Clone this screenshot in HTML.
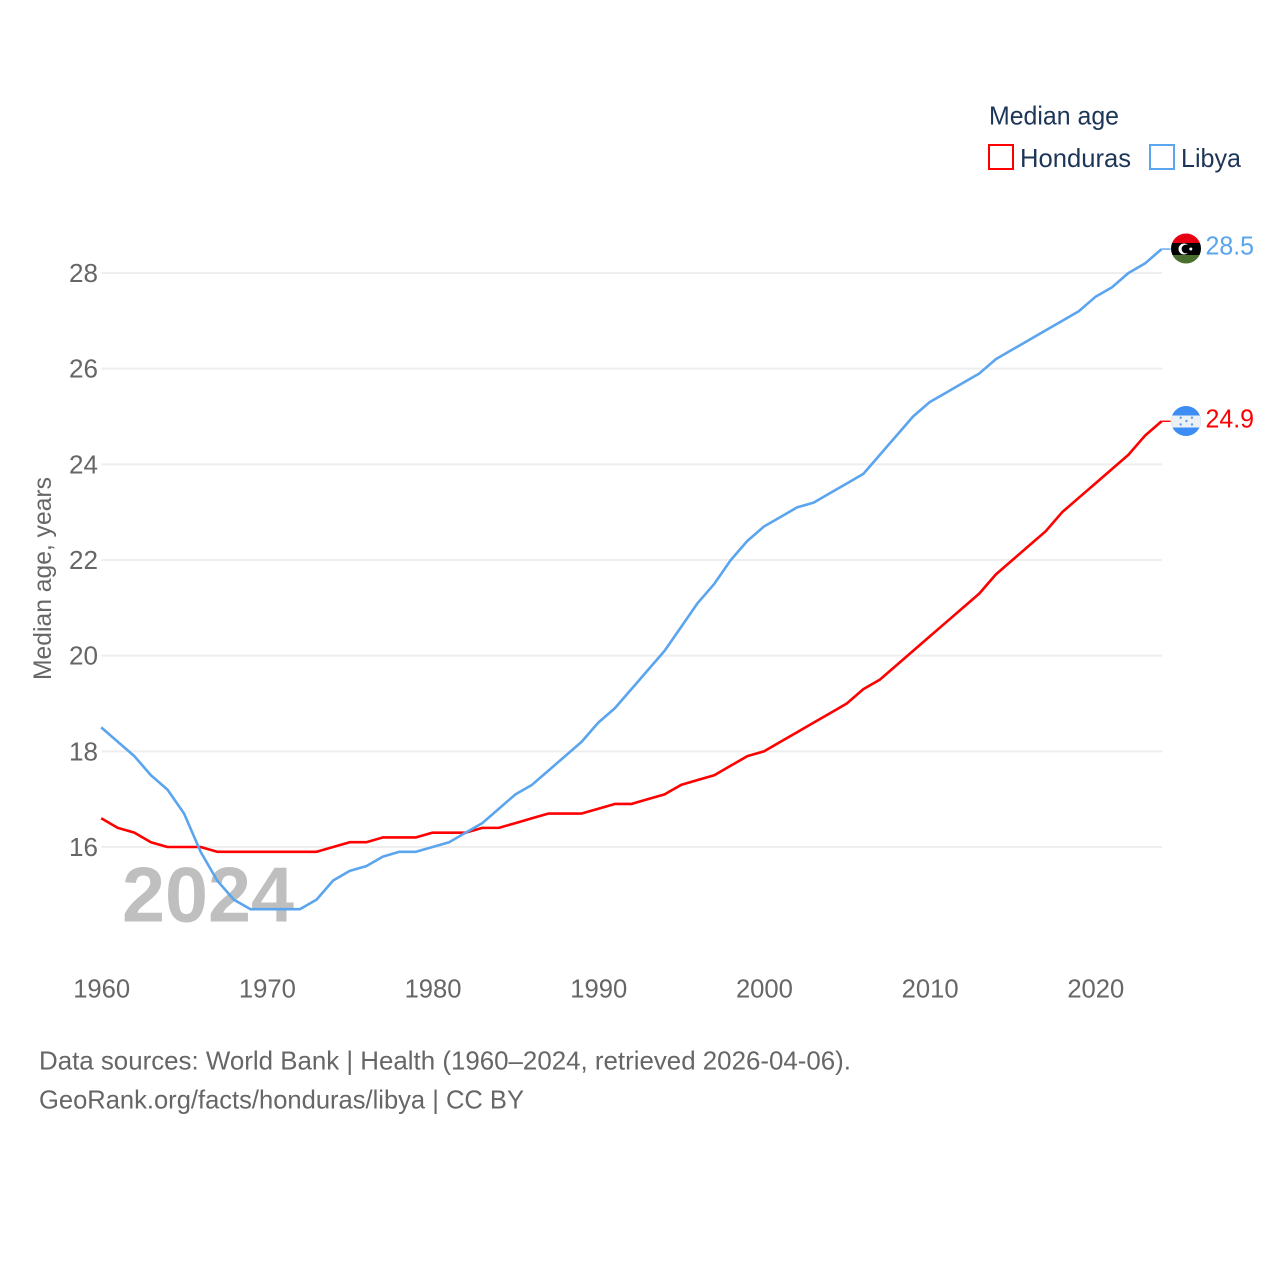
<!DOCTYPE html>
<html>
<head>
<meta charset="utf-8">
<title>Median age: Honduras and Libya</title>
<style>
html,body{margin:0;padding:0;background:#fff;}
svg{display:block;}
text{font-family:"Liberation Sans",sans-serif;}
</style>
</head>
<body>
<svg id="chart" xmlns="http://www.w3.org/2000/svg" width="1280" height="1280" viewBox="0 0 1280 1280">
  <defs>
    <clipPath id="flag-clip-ly"><circle cx="1186" cy="248.5" r="15"></circle></clipPath>
    <clipPath id="flag-clip-hn"><circle cx="1186" cy="421" r="15"></circle></clipPath>
  </defs>
  <rect x="0" y="0" width="1280" height="1280" fill="#ffffff"></rect>
  <g id="grid"></g>
  <text x="122" y="921.5" font-size="78" font-weight="700" fill="#bfbfbf" textLength="172" lengthAdjust="spacingAndGlyphs">2024</text>
  <g id="y-ticks"></g>
  <g id="x-ticks"></g>
  <text transform="translate(51,680) rotate(-90)" font-size="25" fill="#666666" textLength="203" lengthAdjust="spacingAndGlyphs">Median age, years</text>
  <g id="series"></g>

  <g>
    <text x="989" y="124.5" font-size="26" fill="#1d3557" textLength="130" lengthAdjust="spacingAndGlyphs">Median age</text>
    <rect x="989" y="145" width="24" height="24" fill="none" stroke="#ff0000" stroke-width="2"></rect>
    <text x="1020" y="167" font-size="26" fill="#1d3557" textLength="111" lengthAdjust="spacingAndGlyphs">Honduras</text>
    <rect x="1150" y="145" width="24" height="24" fill="none" stroke="#5ba4ee" stroke-width="2"></rect>
    <text x="1181" y="167" font-size="26" fill="#1d3557" textLength="60" lengthAdjust="spacingAndGlyphs">Libya</text>
  </g>

  <g clip-path="url(#flag-clip-ly)">
    <rect x="1171" y="233" width="30" height="10" fill="#e70013"></rect>
    <rect x="1171" y="243" width="30" height="12" fill="#000000"></rect>
    <rect x="1171" y="255" width="30" height="9" fill="#4a7030"></rect>
    <circle cx="1184" cy="249" r="5.5" fill="#ffffff"></circle>
    <circle cx="1186" cy="249" r="4.4" fill="#000000"></circle>
    <circle cx="1190.8" cy="249" r="1.5" fill="#ffffff"></circle>
  </g>
  <g clip-path="url(#flag-clip-hn)">
    <rect x="1171" y="406" width="30" height="30" fill="#3d8df5"></rect>
    <rect x="1171" y="415.5" width="30" height="12" fill="#eef1f4"></rect>
    <circle cx="1180.7" cy="417.7" r="1.2" fill="#5a9ff0"></circle>
    <circle cx="1192" cy="417.7" r="1.2" fill="#5a9ff0"></circle>
    <circle cx="1186.4" cy="421" r="1.2" fill="#5a9ff0"></circle>
    <circle cx="1180.7" cy="424.5" r="1.2" fill="#5a9ff0"></circle>
    <circle cx="1192" cy="424.5" r="1.2" fill="#5a9ff0"></circle>
  </g>
  <text id="value-libya" x="1205.5" y="254.5" font-size="26" fill="#5ba4ee" textLength="48.5" lengthAdjust="spacingAndGlyphs"></text>
  <text id="value-honduras" x="1205.5" y="427.5" font-size="26" fill="#ff0000" textLength="48.5" lengthAdjust="spacingAndGlyphs"></text>

  <text x="39" y="1069.5" font-size="26" fill="#666666" textLength="812" lengthAdjust="spacingAndGlyphs">Data sources: World Bank | Health (1960–2024, retrieved 2026-04-06).</text>
  <a><text x="39" y="1108.5" font-size="26" fill="#666666" textLength="485" lengthAdjust="spacingAndGlyphs">GeoRank.org/facts/honduras/libya | CC BY</text></a>
</svg>
<script>
const startYear = 1960;
const xTickLabels = [1960, 1970, 1980, 1990, 2000, 2010, 2020];
const yTickLabels = [16, 18, 20, 22, 24, 26, 28];
const honduras = [16.6,16.4,16.3,16.1,16.0,16.0,16.0,15.9,15.9,15.9,15.9,15.9,15.9,15.9,16.0,16.1,16.1,16.2,16.2,16.2,16.3,16.3,16.3,16.4,16.4,16.5,16.6,16.7,16.7,16.7,16.8,16.9,16.9,17.0,17.1,17.3,17.4,17.5,17.7,17.9,18.0,18.2,18.4,18.6,18.8,19.0,19.3,19.5,19.8,20.1,20.4,20.7,21.0,21.3,21.7,22.0,22.3,22.6,23.0,23.3,23.6,23.9,24.2,24.6,24.9];
const libya = [18.5,18.2,17.9,17.5,17.2,16.7,15.9,15.3,14.9,14.7,14.7,14.7,14.7,14.9,15.3,15.5,15.6,15.8,15.9,15.9,16.0,16.1,16.3,16.5,16.8,17.1,17.3,17.6,17.9,18.2,18.6,18.9,19.3,19.7,20.1,20.6,21.1,21.5,22.0,22.4,22.7,22.9,23.1,23.2,23.4,23.6,23.8,24.2,24.6,25.0,25.3,25.5,25.7,25.9,26.2,26.4,26.6,26.8,27.0,27.2,27.5,27.7,28.0,28.2,28.5];

const NS = 'http://www.w3.org/2000/svg';
function xScale(year) { return 101.2 + (year - 1960) * (1161.6 - 101.2) / 64; }
function yScale(v) { return 847 - (v - 16) * (847 - 273) / 12; }
function make(tag, attrs, parent, text) {
  const el = document.createElementNS(NS, tag);
  for (const k in attrs) el.setAttribute(k, attrs[k]);
  if (text !== undefined) el.textContent = text;
  parent.appendChild(el);
  return el;
}
const grid = document.getElementById('grid');
const yTicks = document.getElementById('y-ticks');
const xTicks = document.getElementById('x-ticks');
const seriesGroup = document.getElementById('series');

yTickLabels.forEach(function (t) {
  const line = make('line', {x1: 101.5, x2: 1162, y1: yScale(t), y2: yScale(t), stroke: '#eeeeee', 'stroke-width': 2}, grid);
  
  
  const label = make('text', {x: 98, y: yScale(t) + 9, 'font-size': 26, fill: '#666666', 'text-anchor': 'end', textLength: 29, lengthAdjust: 'spacingAndGlyphs'}, yTicks, String(t));
  
  
});
xTickLabels.forEach(function (t) {
  const label = make('text', {x: xScale(t) + 0.5, y: 997.5, 'font-size': 26, fill: '#666666', 'text-anchor': 'middle', textLength: 57, lengthAdjust: 'spacingAndGlyphs'}, xTicks, String(t));
  
  
});
function linePath(values) {
  return values.map(function (v, i) {
    return (i ? 'L' : 'M') + xScale(startYear + i).toFixed(2) + ' ' + yScale(v).toFixed(2);
  }).join(' ');
}
function endStub(values) {
  const last = values.length - 1;
  const x = xScale(startYear + last);
  const y = yScale(values[last]);
  return 'M' + x.toFixed(2) + ' ' + y.toFixed(2) + ' L' + (x + 9).toFixed(2) + ' ' + y.toFixed(2);
}
const hondurasLine = make('path', {d: linePath(honduras), fill: 'none', stroke: '#ff0000', 'stroke-width': 2.6, 'stroke-linejoin': 'round'}, seriesGroup);


const hondurasStub = make('path', {d: endStub(honduras), fill: 'none', stroke: '#ff0000', 'stroke-width': 1.4}, seriesGroup);


const libyaLine = make('path', {d: linePath(libya), fill: 'none', stroke: '#5ba4ee', 'stroke-width': 2.6, 'stroke-linejoin': 'round'}, seriesGroup);


const libyaStub = make('path', {d: endStub(libya), fill: 'none', stroke: '#5ba4ee', 'stroke-width': 1.4}, seriesGroup);



document.getElementById('value-libya').textContent = libya[libya.length - 1].toFixed(1);
document.getElementById('value-honduras').textContent = honduras[honduras.length - 1].toFixed(1);
</script>
</body>
</html>
